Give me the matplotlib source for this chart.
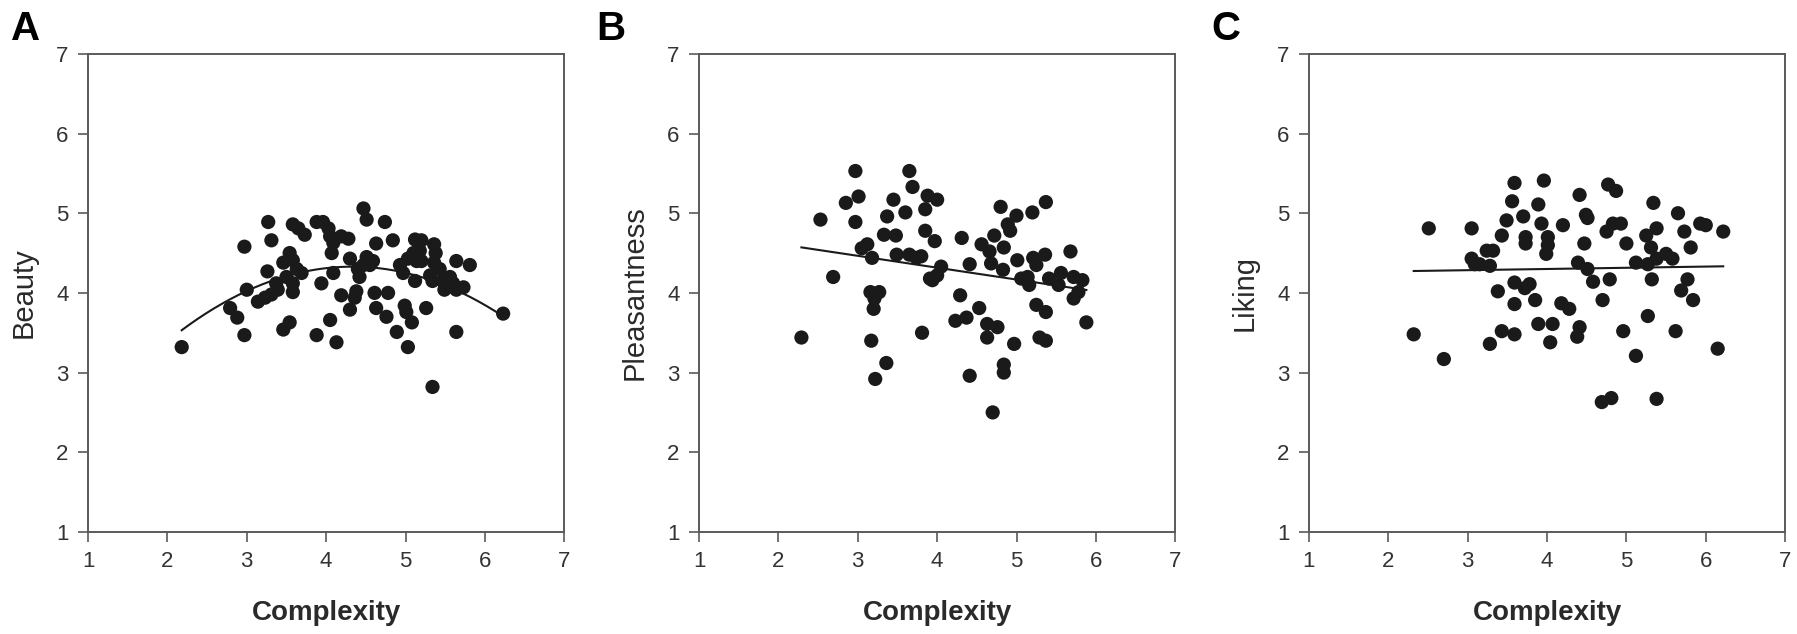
import numpy as np
import matplotlib
matplotlib.use("Agg")
import matplotlib.pyplot as plt

plt.rcParams['font.family'] = ['Liberation Sans', 'DejaVu Sans']

# Panel A: complexity vs beauty (quadratic fit)
complexity_a = [2.18, 2.79, 2.88, 2.97, 2.97, 3.00, 3.27, 3.31, 3.26, 3.14, 3.23, 3.31,
                3.39, 3.37, 3.46, 3.54, 3.46, 3.54, 3.58, 3.63, 3.58, 3.58, 3.69, 3.50,
                3.58, 3.65, 3.73, 3.88, 3.96, 4.03, 4.05, 4.09, 4.19, 4.28, 4.07, 3.88,
                3.94, 4.05, 4.09, 4.13, 4.19, 4.30, 4.36, 4.38, 4.30, 4.42, 4.47, 4.51,
                4.55, 4.59, 4.40, 4.47, 4.51, 4.63, 4.74, 4.84, 4.61, 4.63, 4.78, 4.76,
                4.89, 4.93, 4.97, 5.03, 5.10, 5.14, 5.12, 4.99, 5.01, 5.08, 5.03, 5.12,
                5.20, 5.18, 5.20, 5.26, 5.31, 5.34, 5.36, 5.38, 5.36, 5.43, 5.34, 5.47,
                5.49, 5.56, 5.60, 5.64, 5.73, 5.64, 5.81, 5.64, 6.23]
beauty = [3.32, 3.81, 3.69, 3.47, 4.58, 4.04, 4.89, 4.66, 4.27, 3.89, 3.94, 3.98,
          4.04, 4.12, 3.54, 3.63, 4.38, 4.50, 4.41, 4.30, 4.12, 4.01, 4.25, 4.20,
          4.86, 4.81, 4.73, 4.89, 4.89, 4.81, 4.71, 4.63, 4.71, 4.68, 4.50, 3.47,
          4.12, 3.66, 4.25, 3.38, 3.97, 3.79, 3.94, 4.02, 4.43, 4.20, 4.35, 4.45,
          4.35, 4.40, 4.30, 5.06, 4.92, 4.62, 4.89, 4.66, 4.00, 3.81, 4.00, 3.70,
          3.51, 4.35, 4.25, 4.43, 4.50, 4.40, 4.15, 3.84, 3.76, 3.63, 3.32, 4.67,
          4.66, 4.53, 4.40, 3.81, 4.22, 4.15, 4.61, 4.50, 4.38, 4.30, 2.82, 4.15,
          4.04, 4.20, 4.12, 4.04, 4.07, 4.40, 4.35, 3.51, 3.74]

# Panel B: complexity vs pleasantness (linear fit)
complexity_b = [2.29, 2.53, 2.69, 2.85, 3.01, 2.97, 2.97, 3.05, 3.12, 3.18, 3.16, 3.27,
                3.21, 3.20, 3.17, 3.36, 3.22, 3.33, 3.48, 3.37, 3.45, 3.49, 3.60, 3.65,
                3.69, 3.65, 3.74, 3.80, 3.85, 3.88, 4.00, 3.85, 3.97, 3.94, 4.00, 4.05,
                3.81, 4.31, 4.41, 4.29, 4.23, 4.37, 4.53, 4.41, 4.70, 4.56, 4.66, 4.68,
                4.72, 4.80, 4.84, 4.89, 5.00, 4.92, 4.83, 5.01, 4.63, 4.76, 4.63, 4.97,
                4.84, 4.84, 5.20, 5.37, 5.21, 5.36, 5.25, 5.06, 5.16, 5.41, 5.25, 5.37,
                5.29, 5.37, 5.56, 5.68, 5.53, 5.72, 5.83, 5.78, 5.72, 5.88, 5.14, 3.91]
pleasantness = [3.44, 4.92, 4.20, 5.13, 5.21, 5.53, 4.89, 4.56, 4.61, 4.44, 4.01, 4.01,
                3.93, 3.80, 3.40, 3.12, 2.92, 4.73, 4.72, 4.96, 5.17, 4.48, 5.01, 5.53,
                5.33, 4.48, 4.44, 4.46, 5.05, 5.22, 5.17, 4.78, 4.65, 4.16, 4.22, 4.33,
                3.50, 4.69, 4.36, 3.97, 3.65, 3.69, 3.81, 2.96, 2.50, 4.61, 4.52, 4.37,
                4.72, 5.08, 4.57, 4.86, 4.97, 4.78, 4.29, 4.41, 3.61, 3.57, 3.44, 3.36,
                3.10, 3.00, 5.01, 5.14, 4.44, 4.48, 4.35, 4.18, 4.10, 4.18, 3.85, 3.76,
                3.44, 3.40, 4.25, 4.52, 4.10, 4.20, 4.16, 4.01, 3.93, 3.63, 4.20, 4.18]

# Panel C: complexity vs liking (linear fit)
complexity_c = [2.32, 2.51, 2.70, 3.05, 3.05, 3.09, 3.15, 3.24, 3.32, 3.28, 3.28, 3.43,
                3.38, 3.43, 3.49, 3.56, 3.59, 3.59, 3.59, 3.59, 3.70, 3.73, 3.73, 3.72,
                3.78, 3.85, 3.89, 3.93, 3.96, 4.01, 4.01, 3.99, 3.89, 4.07, 4.04, 4.20,
                4.18, 4.28, 4.41, 4.38, 4.41, 4.51, 4.47, 4.39, 4.51, 4.58, 4.70, 4.75,
                4.77, 4.87, 4.79, 4.83, 4.93, 5.00, 4.69, 4.81, 4.96, 5.12, 5.12, 5.27,
                5.25, 5.31, 5.38, 5.34, 5.38, 5.50, 5.58, 5.32, 5.27, 5.38, 5.62, 5.65,
                5.73, 5.81, 5.77, 5.69, 5.84, 5.93, 6.00, 6.22, 6.15, 4.49]
liking = [3.48, 4.81, 3.17, 4.81, 4.43, 4.36, 4.36, 4.53, 4.53, 4.34, 3.36, 4.72,
          4.02, 3.52, 4.91, 5.15, 5.38, 4.13, 3.86, 3.48, 4.96, 4.70, 4.62, 4.06,
          4.11, 3.91, 5.11, 4.87, 5.41, 4.70, 4.60, 4.49, 3.61, 3.61, 3.38, 4.85,
          3.87, 3.80, 3.57, 3.45, 5.23, 4.94, 4.62, 4.38, 4.30, 4.14, 3.91, 4.77,
          5.36, 5.28, 4.17, 4.87, 4.87, 4.62, 2.63, 2.68, 3.52, 3.21, 4.38, 4.36,
          4.72, 4.57, 4.81, 5.13, 4.43, 4.49, 4.43, 4.17, 3.71, 2.67, 3.52, 5.00,
          4.77, 4.57, 4.17, 4.03, 3.91, 4.87, 4.85, 4.77, 3.30, 4.98]

panels = [
    ("A", "Beauty", complexity_a, beauty, 2, [0.049, 0.161, 0.265, 0.754]),
    ("B", "Pleasantness", complexity_b, pleasantness, 1, [0.389, 0.161, 0.265, 0.754]),
    ("C", "Liking", complexity_c, liking, 1, [0.7284, 0.161, 0.265, 0.754]),
]
letter_x = [0.006, 0.332, 0.674]

fig = plt.figure(figsize=(17.97, 6.34), dpi=100)

for (letter, ylabel, xs, ys, deg, rect), lx in zip(panels, letter_x):
    ax = fig.add_axes(rect)
    xs = np.array(xs)
    ys = np.array(ys)
    ax.scatter(xs, ys, s=105, color='#1a1a1a', edgecolors='none', zorder=3)

    # fitted trend from the plotted points
    coef = np.polyfit(xs, ys, deg)
    xfit = np.linspace(xs.min(), xs.max(), 200)
    ax.plot(xfit, np.polyval(coef, xfit), color='#1a1a1a', lw=1.5, zorder=2)

    ax.set_xlim(1, 7)
    ax.set_ylim(1, 7)
    ax.set_xticks(range(1, 8))
    ax.set_yticks(range(1, 8))
    for sp in ax.spines.values():
        sp.set_color('#5a5a5a')
        sp.set_linewidth(1.4)
    ax.tick_params(direction='out', length=7, width=1.2, color='#5a5a5a',
                   labelsize=16, labelcolor='#333333', pad=7)
    ax.set_xlabel("Complexity", fontsize=20, fontweight='bold', color='#2a2a2a', labelpad=20)
    ax.set_ylabel(ylabel, fontsize=21, color='#2a2a2a', labelpad=13)

    fig.text(lx, 0.985, letter, fontsize=29, fontweight='bold', va='top', ha='left')

fig.savefig("out.png", dpi=100)
